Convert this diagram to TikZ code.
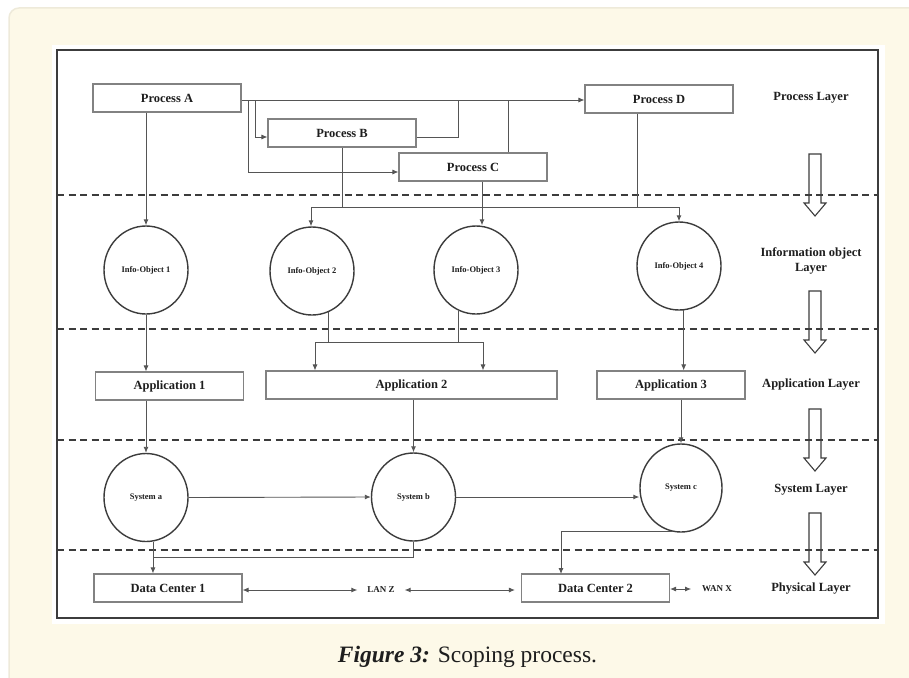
\documentclass[tikz,border=0pt]{standalone}
\usepackage{fontspec}
\setmainfont{Liberation Serif}
\usetikzlibrary{arrows.meta,shapes.geometric}

\definecolor{cream}{RGB}{253,249,232}
\definecolor{creamedge}{RGB}{238,234,218}
\definecolor{linegray}{RGB}{85,85,85}
\definecolor{boxgray}{RGB}{130,130,130}
\definecolor{ovalgray}{RGB}{60,60,60}
\definecolor{inkgray}{RGB}{30,30,30}

\tikzset{
    procbox/.style={draw=boxgray, line width=1.1pt, minimum width=148pt, minimum height=28pt, inner sep=0pt, text=inkgray, font=\fontsize{12.5}{14}\selectfont\bfseries},
    oval/.style={ellipse, draw=ovalgray, line width=1.4pt, minimum width=84pt, minimum height=88pt, inner sep=0pt, text=inkgray, font=\fontsize{8.5}{10}\selectfont\bfseries},
    layer/.style={align=center, text=inkgray, font=\fontsize{12.5}{15}\selectfont\bfseries},
    tiny/.style={text=inkgray, inner sep=0pt, outer sep=10pt, font=\fontsize{9}{10}\selectfont\bfseries},
    arr/.style={draw=linegray, line width=0.9pt, -{Latex[length=6pt,width=5pt]}},
    dbl/.style={draw=linegray, line width=0.9pt, {Latex[length=6pt,width=5pt]}-{Latex[length=6pt,width=5pt]}},
    wire/.style={draw=linegray, line width=0.9pt},
    sep/.style={draw=ovalgray, line width=2pt, dash pattern=on 7pt off 4.5pt},
    hollow/.style={draw=ovalgray, line width=1.1pt}
}

\begin{document}
\begin{tikzpicture}[x=1pt, y=-1pt]
    \useasboundingbox (0,0) rectangle (909,677);

    % Page background and frame
    \draw[draw=creamedge, fill=cream, line width=1.5pt, rounded corners=10pt] (9,8) rectangle (940,700);
    \fill[white] (52,45) rectangle (885,624);
    \draw[draw=ovalgray, line width=1.6pt] (57,50) rectangle (878,618);

    % Layer separators
    \draw[sep] (57,195) -- (878,195);
    \draw[sep] (57,329) -- (878,329);
    \draw[sep] (57,440) -- (878,440);
    \draw[sep] (57,550) -- (878,550);

    % Hollow layer arrows
    \def\layerarrow#1{\draw[hollow] (809,#1) -- (821,#1) -- (821,#1+49) -- (826,#1+49) -- (815,#1+62) -- (804,#1+49) -- (809,#1+49) -- cycle;}
    \layerarrow{154}
    \layerarrow{291}
    \layerarrow{409}
    \layerarrow{513}

    % Layer labels
    \node[layer] (lproc) at (811,98) {Process Layer};
    \node[layer] (linfo) at (811,261) {Information object\\Layer};
    \node[layer] (lapp) at (811,385) {Application Layer};
    \node[layer] (lsys) at (811,490) {System Layer};
    \node[layer] (lphys) at (811,589) {Physical Layer};

    % Process layer
    \node[procbox] (pa) at (167,98) {Process A};
    \node[procbox] (pb) at (342,133) {Process B};
    \node[procbox] (pc) at (473,167) {Process C};
    \node[procbox] (pd) at (659,99) {Process D};

    % Information objects
    \node[oval] (io1) at (146,270) {Info-Object 1};
    \node[oval] (io2) at (312,271) {Info-Object 2};
    \node[oval] (io3) at (476,270) {Info-Object 3};
    \node[oval] (io4) at (679,266) {Info-Object 4};

    % Applications
    \node[procbox] (app1) at (169.5,386) {Application 1};
    \node[procbox, minimum width=291pt] (app2) at (411.5,385) {Application 2};
    \node[procbox] (app3) at (671,385) {Application 3};

    % Systems
    \node[oval] (sa) at (146,497.5) {System a};
    \node[oval] (sb) at (413.5,497) {System b};
    \node[oval, minimum width=82pt] (sc) at (681,488) {System c};

    % Data centers and networks
    \node[procbox] (dc1) at (168,588) {Data Center 1};
    \node[procbox] (dc2) at (595.5,588) {Data Center 2};
    \node[tiny] (lan) at (381,590) {LAN Z};
    \node[tiny] (wan) at (717,589) {WAN X};

    % Process connectors
    \coordinate (splitc) at (248,100);
    \coordinate (splitb) at (255,100);
    \coordinate (joinb) at (458,100);
    \coordinate (joinc) at (508,100);
    \draw[arr] (pa.east |- splitc) -- (pd.west |- splitc);
    \draw[arr] (splitc) |- ([yshift=-5pt]pc.west);
    \draw[arr] (splitb) |- ([yshift=-4pt]pb.west);
    \draw[wire] ([yshift=-4pt]pb.east) -| (joinb);
    \draw[wire] (joinc |- pc.north) -- (joinc);

    % Processes to information objects
    \coordinate (busl) at (311,207);
    \coordinate (busr) at (679,207);
    \draw[arr] (io1.north |- pa.south) -- (io1.north);
    \draw[wire] (pb.south) |- (busl);
    \draw[wire] ([xshift=-22pt]pd.south) |- (busr);
    \draw[wire] (busl) -- (busr);
    \draw[arr] (busl) -- (busl |- io2.north);
    \draw[arr] (busr) -- (io4.north);
    \draw[arr] ([xshift=9pt]pc.south) -- ([xshift=9pt]pc.south |- io3.north);

    % Information objects to applications
    \coordinate (appl) at (315,342);
    \coordinate (appr) at (483,342);
    \draw[arr] (io1.south) -- (io1.south |- app1.north);
    \draw[wire] (io2.-68) |- (appl);
    \draw[wire] (io3.-114) |- (appr);
    \draw[wire] (appl) -- (appr);
    \draw[arr] (appl) -- (appl |- app2.north);
    \draw[arr] (appr) -- (appr |- app2.north);
    \draw[arr] (io4.-84) -- (io4.-84 |- app3.north);

    % Applications to systems
    \draw[arr] (sa.north |- app1.south) -- (sa.north);
    \draw[arr] (sb.north |- app2.south) -- (sb.north);
    \draw[arr] (sc.north |- app3.south) -- (sc.north);
    \draw[arr] (sa.east) -- (sb.west);
    \draw[arr] (sb.east) -- (sb.east -| sc.west);

    % Systems to data centers
    \coordinate (dcjoin) at (153,557);
    \coordinate (dcdrop) at (561,574);
    \draw[arr] (sa.-81) -- (sa.-81 |- dc1.north);
    \draw[wire] (sb.south) |- (dcjoin);
    \draw[arr] (sc.-101) -| (dcdrop);

    % Network links
    \draw[dbl] (dc1.east |- lan) -- (lan.west);
    \draw[dbl] (lan.east) -- ([xshift=-6pt]dc2.west |- lan);
    \draw[dbl] (dc2.east |- wan) -- ([xshift=-1pt]wan.west);

    % Caption
    \node[anchor=base, text=inkgray, inner sep=0pt, font=\fontsize{23.5}{26}\selectfont] (caption) at (467.5,662) {\textbf{\textit{Figure 3:}} Scoping process.};
\end{tikzpicture}
\end{document}
